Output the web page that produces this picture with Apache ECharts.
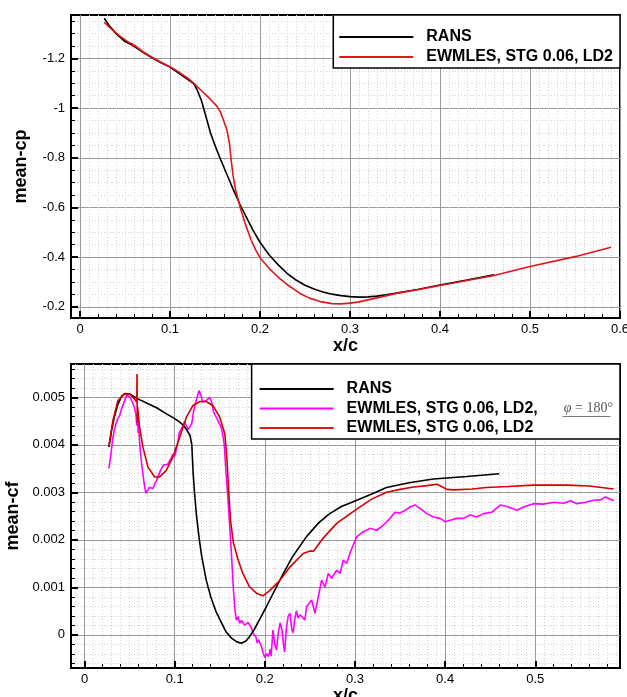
<!DOCTYPE html>
<html>
<head>
<meta charset="UTF-8">
<title>mean-cp / mean-cf</title>
<style>
  body { margin: 0; padding: 0; background: #fff; }
  #chart { width: 627px; height: 697px; }
</style>
</head>
<body>
<div id="chart"></div>
<script src="https://cdn.jsdelivr.net/npm/echarts@6/dist/echarts.min.js"></script>
<script>
// ---------- data, [x/c, value] ----------
var cpRans = [
  [0.027, -1.362], [0.032, -1.335], [0.040, -1.300], [0.050, -1.268], [0.059, -1.252],
  [0.070, -1.225], [0.080, -1.203], [0.090, -1.183], [0.100, -1.165], [0.110, -1.140],
  [0.120, -1.115], [0.126, -1.100], [0.130, -1.075], [0.135, -1.030], [0.140, -0.965],
  [0.145, -0.900], [0.150, -0.850], [0.156, -0.795], [0.163, -0.735], [0.170, -0.675],
  [0.178, -0.610], [0.185, -0.560], [0.192, -0.510], [0.200, -0.460], [0.210, -0.410],
  [0.220, -0.370], [0.230, -0.335], [0.240, -0.308], [0.250, -0.287], [0.260, -0.272],
  [0.270, -0.260], [0.280, -0.251], [0.290, -0.245], [0.300, -0.241], [0.310, -0.239],
  [0.320, -0.240], [0.330, -0.243], [0.340, -0.248], [0.350, -0.254], [0.375, -0.270],
  [0.400, -0.288], [0.430, -0.308], [0.460, -0.329]
];
var cpLes = [
  [0.027, -1.345], [0.035, -1.318], [0.045, -1.288], [0.055, -1.263], [0.0585, -1.258],
  [0.059, -1.246], [0.0595, -1.256], [0.070, -1.227], [0.080, -1.205], [0.090, -1.185],
  [0.100, -1.167], [0.110, -1.145], [0.120, -1.120], [0.126, -1.102], [0.135, -1.070],
  [0.145, -1.035], [0.152, -1.008], [0.156, -0.985], [0.159, -0.955], [0.163, -0.915],
  [0.166, -0.860], [0.168, -0.790], [0.170, -0.730], [0.173, -0.670], [0.178, -0.600],
  [0.184, -0.530], [0.190, -0.470], [0.195, -0.430], [0.200, -0.398], [0.210, -0.355],
  [0.220, -0.320], [0.230, -0.290], [0.244, -0.255], [0.255, -0.235], [0.267, -0.221],
  [0.280, -0.213], [0.290, -0.212], [0.300, -0.215], [0.310, -0.220], [0.320, -0.228],
  [0.335, -0.240], [0.350, -0.253], [0.375, -0.269], [0.400, -0.286], [0.430, -0.306],
  [0.460, -0.326], [0.500, -0.362], [0.550, -0.402], [0.590, -0.440]
];

var cfRans = [
  [0.027, 0.00395], [0.030, 0.00430], [0.033, 0.00458], [0.037, 0.00485], [0.041, 0.00502],
  [0.045, 0.00508], [0.050, 0.00507], [0.055, 0.00501], [0.061, 0.00495], [0.070, 0.00487],
  [0.080, 0.00478], [0.090, 0.00466], [0.100, 0.00455], [0.106, 0.00447], [0.110, 0.00440],
  [0.113, 0.00432], [0.117, 0.00420], [0.119, 0.00400], [0.1205, 0.00340], [0.122, 0.00300],
  [0.124, 0.00255], [0.127, 0.00205], [0.130, 0.00165], [0.135, 0.00115], [0.140, 0.00080],
  [0.146, 0.00048], [0.152, 0.00025], [0.157, 0.00006], [0.163, -0.00007], [0.169, -0.00015],
  [0.174, -0.00018], [0.179, -0.00013], [0.183, -0.00004], [0.188, 0.00010], [0.195, 0.00035],
  [0.202, 0.00060], [0.210, 0.00090], [0.220, 0.00127], [0.230, 0.00162], [0.246, 0.00206],
  [0.260, 0.00236], [0.272, 0.00255], [0.285, 0.00270], [0.298, 0.00280], [0.318, 0.00296],
  [0.335, 0.00310], [0.360, 0.00320], [0.387, 0.00328], [0.424, 0.00333], [0.460, 0.00339]
];
var cfLes = [
  [0.027, 0.00396], [0.0315, 0.00451], [0.037, 0.00493], [0.0444, 0.00507], [0.050, 0.00507],
  [0.0556, 0.00496], [0.058, 0.00490], [0.0582, 0.00549], [0.0585, 0.00447], [0.0588, 0.00480],
  [0.0611, 0.00437], [0.0648, 0.00395], [0.0704, 0.00353], [0.0778, 0.00332], [0.0833, 0.00332],
  [0.0907, 0.00346], [0.098, 0.00374], [0.1056, 0.00416], [0.113, 0.00458], [0.120, 0.00482],
  [0.128, 0.00491], [0.135, 0.00491], [0.1426, 0.00482], [0.150, 0.00458], [0.1556, 0.00423],
  [0.158, 0.00370], [0.160, 0.00300], [0.162, 0.00240], [0.165, 0.00195], [0.170, 0.00160],
  [0.175, 0.00132], [0.183, 0.00101], [0.191, 0.00087], [0.198, 0.00082], [0.206, 0.00094],
  [0.217, 0.00115], [0.228, 0.00143], [0.2426, 0.00171], [0.2494, 0.00176], [0.254, 0.00176],
  [0.265, 0.00204], [0.280, 0.00235], [0.300, 0.00262], [0.318, 0.00285], [0.335, 0.00300],
  [0.350, 0.00306], [0.365, 0.00311], [0.380, 0.00314], [0.391, 0.00317], [0.396, 0.00312],
  [0.402, 0.00306], [0.410, 0.00305], [0.430, 0.00307], [0.446, 0.00310], [0.470, 0.00312],
  [0.498, 0.00315], [0.535, 0.00315], [0.560, 0.00313], [0.587, 0.00307]
];
var cfLesPhi = [
  [0.027, 0.00350], [0.029, 0.00375], [0.031, 0.00410], [0.033, 0.00430], [0.035, 0.00445],
  [0.037, 0.00455], [0.039, 0.00462], [0.041, 0.00475], [0.043, 0.00485], [0.045, 0.00495],
  [0.047, 0.00505], [0.049, 0.00502], [0.051, 0.00498], [0.053, 0.00490], [0.055, 0.00480],
  [0.057, 0.00465], [0.058, 0.00440], [0.059, 0.00465], [0.0595, 0.00425], [0.060, 0.00445],
  [0.061, 0.00410], [0.062, 0.00385], [0.064, 0.00350], [0.066, 0.00320], [0.068, 0.00298],
  [0.070, 0.00300], [0.072, 0.00310], [0.074, 0.00312], [0.076, 0.00308], [0.078, 0.00318],
  [0.080, 0.00325], [0.082, 0.00335], [0.084, 0.00345], [0.086, 0.00352], [0.088, 0.00358],
  [0.090, 0.00362], [0.092, 0.00358], [0.094, 0.00365], [0.096, 0.00372], [0.098, 0.00380],
  [0.100, 0.00375], [0.102, 0.00378], [0.103, 0.00400], [0.105, 0.00425], [0.107, 0.00432],
  [0.109, 0.00440], [0.111, 0.00448], [0.113, 0.00440], [0.115, 0.00432], [0.117, 0.00428],
  [0.119, 0.00445], [0.121, 0.00470], [0.123, 0.00488], [0.125, 0.00500], [0.127, 0.00514],
  [0.129, 0.00505], [0.131, 0.00490], [0.133, 0.00488], [0.135, 0.00493], [0.137, 0.00490],
  [0.139, 0.00500], [0.141, 0.00490], [0.143, 0.00470], [0.145, 0.00462], [0.147, 0.00455],
  [0.149, 0.00446], [0.151, 0.00440], [0.153, 0.00425], [0.155, 0.00400], [0.157, 0.00340],
  [0.159, 0.00290], [0.161, 0.00230], [0.163, 0.00170], [0.165, 0.00100], [0.167, 0.00050],
  [0.1685, 0.00031], [0.1704, 0.00038], [0.1722, 0.00024], [0.1741, 0.00030], [0.1759, 0.00031],
  [0.1778, 0.00020], [0.1796, 0.00021], [0.1815, 0.00026], [0.1833, 0.00024], [0.1852, 0.00014],
  [0.187, 0.00003], [0.1885, 0.00006], [0.190, -0.00004], [0.1915, -0.00017], [0.193, -0.00010],
  [0.1944, -0.00014], [0.1963, -0.00025], [0.1981, -0.00038], [0.200, -0.00048], [0.202, -0.00040],
  [0.204, -0.00046], [0.206, -0.00030], [0.207, -0.00045], [0.209, 0.00010], [0.211, -0.00020],
  [0.213, -0.00032], [0.215, 0.00005], [0.217, 0.00025], [0.219, 0.00010], [0.221, -0.00025],
  [0.222, -0.00036], [0.224, 0.00015], [0.226, 0.00040], [0.228, 0.00045], [0.230, 0.00010],
  [0.2315, 0.00004], [0.233, 0.00030], [0.235, 0.00050], [0.237, 0.00035], [0.2389, 0.00042],
  [0.2444, 0.00031], [0.2463, 0.00059], [0.2519, 0.00073], [0.2556, 0.00045], [0.2593, 0.00080],
  [0.263, 0.00115], [0.2667, 0.00100], [0.2704, 0.00129], [0.2741, 0.00119], [0.2796, 0.00136],
  [0.2833, 0.00129], [0.287, 0.00157], [0.2907, 0.00150], [0.2944, 0.00171], [0.2981, 0.00189],
  [0.3019, 0.00206], [0.3093, 0.00217], [0.3167, 0.00224], [0.3241, 0.00220], [0.3315, 0.00231],
  [0.3389, 0.00245], [0.3444, 0.00258], [0.350, 0.00256], [0.3556, 0.00262], [0.3611, 0.00269],
  [0.3667, 0.00273], [0.3722, 0.00266], [0.3796, 0.00255], [0.387, 0.00248], [0.3944, 0.00245],
  [0.400, 0.00238], [0.4056, 0.00241], [0.413, 0.00245], [0.4204, 0.00245], [0.4278, 0.00252],
  [0.435, 0.00248], [0.4426, 0.00255], [0.4519, 0.00258], [0.4611, 0.00273], [0.4685, 0.00270],
  [0.4796, 0.00262], [0.487, 0.00269], [0.4981, 0.00276], [0.509, 0.00275], [0.5204, 0.00279],
  [0.5315, 0.00277], [0.539, 0.00282], [0.5463, 0.00276], [0.5556, 0.00279], [0.5648, 0.00283],
  [0.5722, 0.00284], [0.5778, 0.00290], [0.587, 0.00282]
];

// ---------- tick values ----------
var cpXMajor = [0, 0.1, 0.2, 0.3, 0.4, 0.5, 0.6];
var cpYMajor = [-1.2, -1, -0.8, -0.6, -0.4, -0.2];
var cfXMajor = [0, 0.1, 0.2, 0.3, 0.4, 0.5];
var cfYMajor = [0, 0.001, 0.002, 0.003, 0.004, 0.005];

var NAME_RANS = 'RANS';
var NAME_LES = 'EWMLES, STG 0.06, LD2';
var NAME_PHI = 'EWMLES, STG 0.06, LD2, φ = 180°';

function steps(from, to, step) {
  var out = [];
  var n = Math.round((to - from) / step);
  for (var i = 0; i <= n; i++) out.push(+(from + i * step).toFixed(6));
  return out;
}

var font = 'Liberation Sans, Arial, Helvetica, sans-serif';

// three stacked axes per side: fine dotted grid, minor ticks, main (labels + grid)
function makeAxes(grid, pos, min, max, inverse, major, minor, fine, name, nameGap) {
  var base = { gridIndex: grid, type: 'value', position: pos, offset: 0, min: min, max: max, inverse: inverse, silent: true };
  var fineAx = Object.assign({}, base, {
    axisLine: { show: false, onZero: false },
    axisTick: { show: false, customValues: fine },
    axisLabel: { show: false },
    splitLine: { show: true, lineStyle: { color: '#d2d2d2', type: [1, 2], width: 1 } }
  });
  var minorAx = Object.assign({}, base, {
    axisLine: { show: false, onZero: false },
    axisTick: { show: true, inside: true, length: 4, customValues: minor, lineStyle: { color: '#000', width: 1 } },
    axisLabel: { show: false },
    splitLine: { show: false }
  });
  var mainAx = Object.assign({}, base, {
    name: name,
    nameLocation: 'middle',
    nameGap: nameGap,
    nameRotate: pos === 'left' ? 90 : 0,
    nameTextStyle: { color: '#000', fontSize: 18, fontWeight: 'bold', fontFamily: font },
    axisLine: { show: true, onZero: false, lineStyle: { color: '#000', width: 2 } },
    axisTick: { show: true, inside: true, length: 7, customValues: major, lineStyle: { color: '#000', width: 2 } },
    axisLabel: { show: true, customValues: major, margin: pos === 'left' ? 6 : 5, color: '#000', fontSize: 13, fontFamily: font },
    splitLine: { show: true, lineStyle: { color: '#999', width: 1 } }
  });
  return [fineAx, minorAx, mainAx];
}

var xAxes = []
  .concat(makeAxes(0, 'bottom', -0.01, 0.6, false, cpXMajor, steps(0.02, 0.58, 0.02), steps(0.01, 0.59, 0.01), 'x/c', 16))
  .concat(makeAxes(1, 'bottom', -0.015, 0.594, false, cfXMajor, steps(0.02, 0.58, 0.02), steps(-0.01, 0.59, 0.01), 'x/c', 16));
var yAxes = []
  .concat(makeAxes(0, 'left', -1.375, -0.155, true, cpYMajor, steps(-1.35, -0.2, 0.05), steps(-1.35, -0.2, 0.05), 'mean-cp', 41))
  .concat(makeAxes(1, 'left', -0.0007, 0.0057, false, cfYMajor, steps(-0.0006, 0.0056, 0.0002), steps(-0.0006, 0.0056, 0.0002), 'mean-cf', 44));

function line(name, data, color, xi, yi, z) {
  return {
    name: name, type: 'line', data: data, xAxisIndex: xi, yAxisIndex: yi,
    symbol: 'none', showSymbol: false, smooth: false, clip: true, z: z,
    lineStyle: { color: color, width: 1.6 }, itemStyle: { color: color }
  };
}

var legendBase = {
  orient: 'vertical', icon: 'rect',
  itemWidth: 74, itemHeight: 2,
  backgroundColor: '#fff', borderColor: '#000', borderWidth: 1.5, borderRadius: 0,
  selectedMode: false, z: 10
};

var chart = echarts.init(document.getElementById('chart'));
chart.setOption({
  animation: false,
  backgroundColor: '#fff',
  grid: [
    { left: 71, top: 15, width: 549, height: 303, show: true, borderColor: '#000', borderWidth: 2, containLabel: false, outerBoundsMode: 'none' },
    { left: 71, top: 364, width: 549, height: 304, show: true, borderColor: '#000', borderWidth: 2, containLabel: false, outerBoundsMode: 'none' }
  ],
  xAxis: xAxes,
  yAxis: yAxes,
  legend: [
    Object.assign({}, legendBase, {
      right: 7, top: 15,
      data: [NAME_RANS, NAME_LES],
      itemGap: 4,
      padding: [14, 7, 3, 6],
      textStyle: { color: '#000', fontSize: 16, fontWeight: 'bold', fontFamily: font, padding: [0, 0, 0, 8] }
    }),
    Object.assign({}, legendBase, {
      right: 7, top: 364,
      data: [NAME_RANS, NAME_PHI, NAME_LES],
      itemGap: 3.5,
      padding: [17, 7, 3, 8],
      formatter: function (name) {
        if (name === NAME_PHI) return NAME_LES + ',{gap|}{phi|φ}{eq| = 180°}';
        return name;
      },
      textStyle: {
        color: '#000', fontSize: 16, fontWeight: 'bold', fontFamily: font, padding: [0, 0, 0, 8],
        rich: {
          gap: { width: 26 },
          phi: { fontFamily: 'Liberation Serif', fontStyle: 'italic', fontWeight: 'normal', fontSize: 14, color: '#555' },
          eq: { fontFamily: 'Liberation Serif', fontWeight: 'normal', fontSize: 14, color: '#555' }
        }
      }
    })
  ],
  graphic: [
    // underline under the phi = 180 deg part of the legend
    { type: 'line', right: 14, top: 414, z: 20, silent: true,
      shape: { x1: 0, y1: 0, x2: 48, y2: 0 }, style: { stroke: '#777', lineWidth: 1 } }
  ],
  series: [
    line(NAME_RANS, cpRans, '#000', 2, 2, 3),
    line(NAME_LES, cpLes, '#e0161b', 2, 2, 4),
    line(NAME_RANS, cfRans, '#000', 5, 5, 3),
    line(NAME_PHI, cfLesPhi, '#ff00ff', 5, 5, 2),
    line(NAME_LES, cfLes, '#d40000', 5, 5, 4)
  ]
});
</script>
</body>
</html>
